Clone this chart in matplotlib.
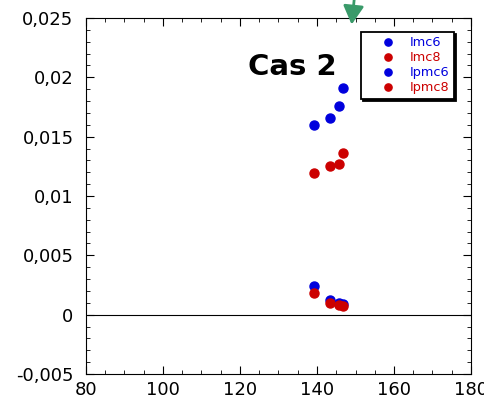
import numpy as np
import matplotlib.pyplot as plt
from matplotlib.ticker import MultipleLocator, FuncFormatter

# donnees
x = [139.2, 143.4, 145.7, 146.8]
imc6 = [0.0160, 0.0166, 0.0176, 0.0191]
imc8 = [0.0119, 0.0125, 0.0127, 0.0136]
ipmc6 = [0.00244, 0.00126, 0.00100, 0.00093]
ipmc8 = [0.00185, 0.00100, 0.00084, 0.00076]
x_fleche = 149.0

blue = '#0000dd'
red = '#cc0000'

fig = plt.figure(figsize=(4.84, 3.98), dpi=100)
ax = fig.add_axes([86/484, 1-374/398, (471-86)/484, (374-18)/398])

ax.axhline(0, color='black', linewidth=0.8, xmin=0.005, zorder=1)
series = [(imc6, blue, 'Imc6'), (imc8, red, 'Imc8'), (ipmc6, blue, 'Ipmc6'), (ipmc8, red, 'Ipmc8')]
for vals, c, lab in series:
    ax.plot(x, vals, 'o', color=c, markersize=6.5, label=lab, zorder=3)

ax.set_xlim(80, 180)
ax.set_ylim(-0.005, 0.025)
ax.xaxis.set_major_locator(MultipleLocator(20))
ax.xaxis.set_minor_locator(MultipleLocator(5))
ax.yaxis.set_major_locator(MultipleLocator(0.005))
ax.yaxis.set_minor_locator(MultipleLocator(0.001))

def virgule(v, pos):
    s = ('%.3f' % v).rstrip('0').rstrip('.')
    if s in ('-0', ''):
        s = '0'
    return s.replace('.', ',')

ax.yaxis.set_major_formatter(FuncFormatter(virgule))
ax.tick_params(which='both', direction='in', top=True, right=True, labelsize=13)
ax.tick_params(which='major', length=6)
ax.tick_params(which='minor', length=3)
ax.tick_params(axis='y', pad=9)
ax.tick_params(axis='x', pad=5)

ax.text(122, 0.0202, 'Cas 2', fontsize=21, fontweight='bold')

leg = ax.legend(loc='upper right', bbox_to_anchor=(0.955, 0.961), fontsize=9.3,
                frameon=True, shadow={'color': 'black', 'alpha': 1, 'ox': 1.5, 'oy': -1.5},
                fancybox=False, handlelength=3.4, handletextpad=0.0,
                borderpad=0.35, labelspacing=0.15, markerscale=0.8,
                borderaxespad=0)
leg.get_frame().set_edgecolor('black')
leg.get_frame().set_linewidth(1.3)
for t, (_, c, _) in zip(leg.get_texts(), series):
    t.set_color(c)

ax.annotate('', xy=(x_fleche, 0.02445), xytext=(x_fleche + 0.8, 0.0270),
            annotation_clip=False,
            arrowprops=dict(arrowstyle='-|>,head_length=0.45,head_width=0.25',
                            color='#3a9a6a', lw=2,
                            mutation_scale=25, shrinkA=0, shrinkB=0))

fig.savefig('out.png', dpi=100)
